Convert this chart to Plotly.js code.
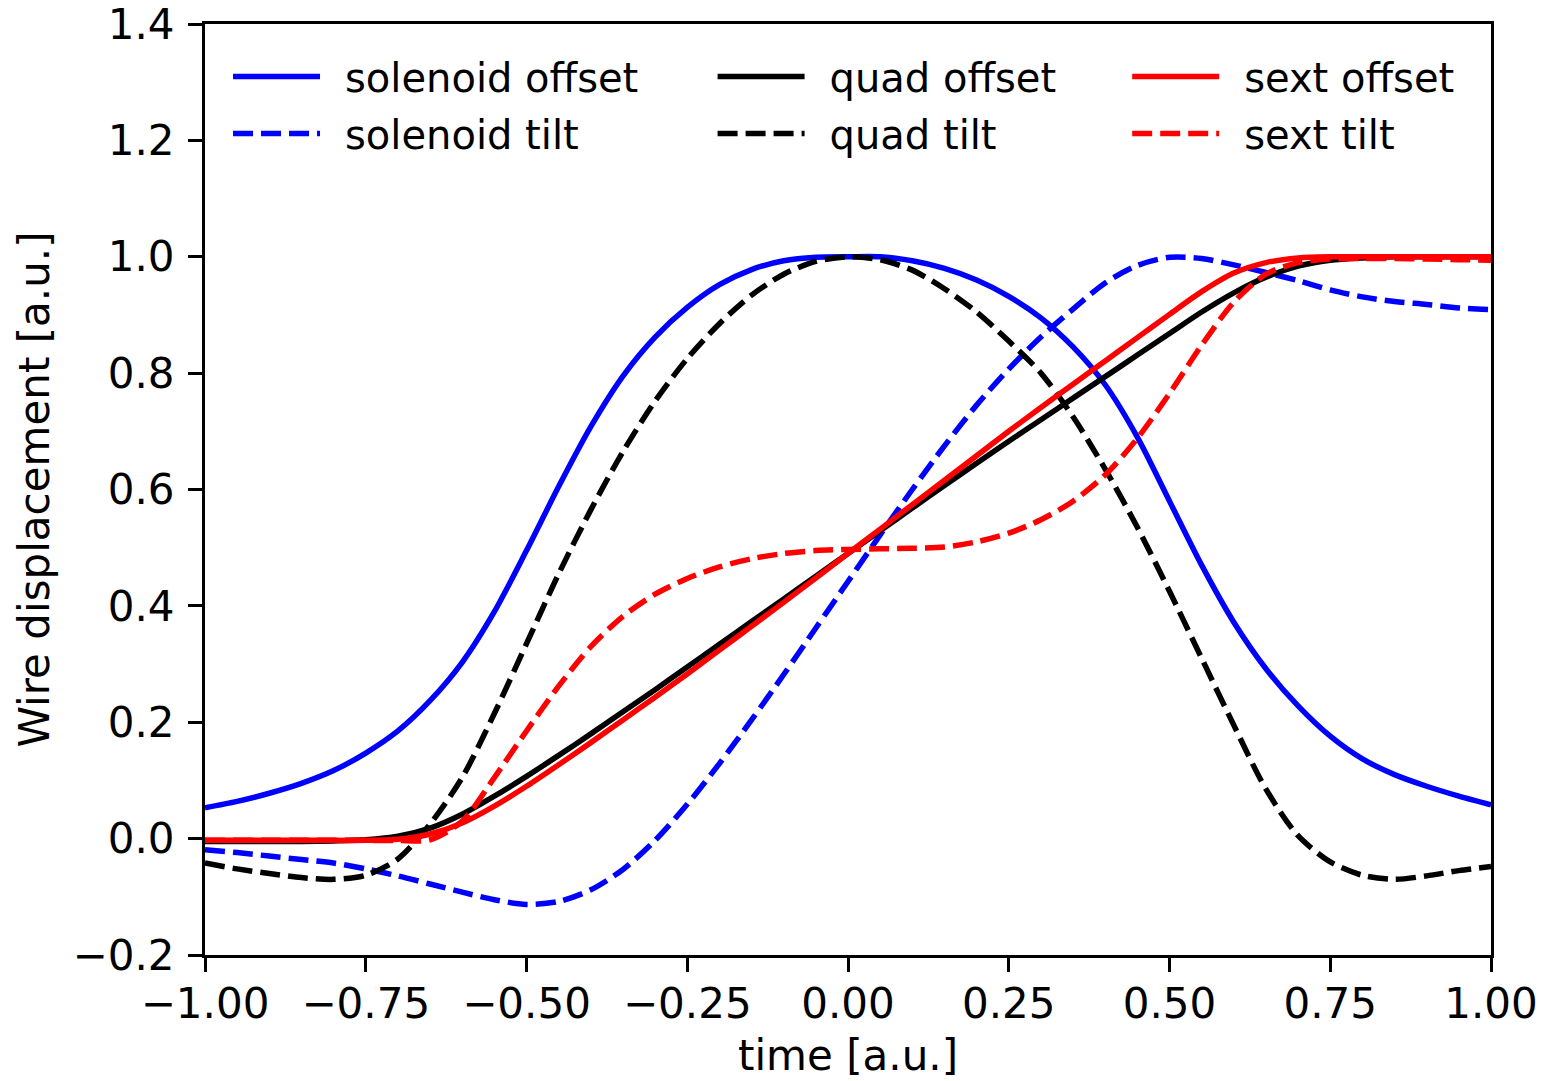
<!DOCTYPE html>
<html><head><meta charset="utf-8">
<script src="https://cdn.plot.ly/plotly-3.0.1.min.js"></script>
<style>html,body{margin:0;padding:0;background:#fff}#chart{width:1548px;height:1081px}</style>
</head><body><div id="chart"></div>
<script>
const time = [-1.00,-0.95,-0.90,-0.85,-0.80,-0.75,-0.70,-0.65,-0.60,-0.55,-0.50,-0.45,-0.40,-0.35,-0.30,-0.25,-0.20,-0.15,-0.10,-0.05,0.00,
  0.05,0.10,0.15,0.20,0.25,0.30,0.35,0.40,0.45,0.50,0.55,0.60,0.65,0.70,0.75,0.80,0.85,0.90,0.95,1.00];

const solenoidOffset = [0.053,0.064,0.078,0.095,0.117,0.147,0.185,0.237,0.303,0.390,0.495,0.605,0.708,0.795,0.862,0.913,0.952,0.978,0.993,0.999,1.000,
  1.000,0.993,0.980,0.960,0.932,0.895,0.845,0.780,0.690,0.580,0.470,0.372,0.292,0.228,0.176,0.137,0.110,0.090,0.073,0.058];
const solenoidTilt = [-0.019,-0.024,-0.030,-0.036,-0.042,-0.052,-0.064,-0.078,-0.092,-0.105,-0.113,-0.108,-0.088,-0.053,-0.003,0.059,0.129,0.204,0.282,0.362,0.442,
  0.522,0.600,0.675,0.745,0.807,0.862,0.910,0.955,0.985,0.999,0.997,0.986,0.973,0.959,0.943,0.931,0.923,0.918,0.912,0.909];
const quadOffset = [-0.005,-0.005,-0.005,-0.005,-0.004,-0.002,0.004,0.018,0.042,0.073,0.107,0.143,0.180,0.218,0.256,0.295,0.334,0.373,0.412,0.451,0.490,
  0.529,0.568,0.607,0.645,0.683,0.720,0.757,0.794,0.831,0.868,0.905,0.938,0.965,0.984,0.994,0.998,1.000,1.000,1.000,1.000];
const quadTilt = [-0.042,-0.052,-0.060,-0.067,-0.070,-0.063,-0.035,0.025,0.105,0.215,0.335,0.455,0.565,0.665,0.752,0.825,0.885,0.934,0.970,0.992,1.000,
  0.995,0.977,0.945,0.905,0.855,0.800,0.725,0.635,0.535,0.425,0.310,0.195,0.085,0.005,-0.040,-0.063,-0.070,-0.064,-0.055,-0.048];
const sextOffset = [-0.003,-0.003,-0.003,-0.003,-0.003,-0.003,-0.001,0.008,0.027,0.056,0.090,0.127,0.165,0.204,0.243,0.283,0.324,0.365,0.406,0.448,0.490,
  0.532,0.574,0.616,0.658,0.700,0.741,0.781,0.821,0.861,0.901,0.940,0.972,0.990,0.998,1.000,1.000,1.000,1.000,1.000,1.000];
const sextTilt = [-0.003,-0.003,-0.003,-0.003,-0.003,-0.003,-0.003,-0.002,0.030,0.105,0.185,0.262,0.330,0.382,0.420,0.447,0.467,0.481,0.490,0.495,0.497,
  0.498,0.499,0.501,0.510,0.525,0.548,0.580,0.625,0.688,0.765,0.848,0.922,0.970,0.990,0.996,0.997,0.997,0.996,0.995,0.994];

const seriesNames = ['solenoid offset','solenoid tilt','quad offset','quad tilt','sext offset','sext tilt'];
const seriesData = [solenoidOffset, solenoidTilt, quadOffset, quadTilt, sextOffset, sextTilt];
const seriesColors = ['#0000ff','#0000ff','#000000','#000000','#ff0000','#ff0000'];
const seriesDash = ['solid','20px,8px','solid','20px,8px','solid','20px,8px'];
const seriesLegend = ['legend','legend','legend2','legend2','legend3','legend3'];

const FONT = 'DejaVu Sans, sans-serif';

const traces = seriesNames.map((name, i) => ({
  type: 'scatter', mode: 'lines', name: '\u2002' + name,
  x: time, y: seriesData[i],
  line: {color: seriesColors[i], width: 5.5, dash: seriesDash[i], shape: 'spline', smoothing: 0.8},
  legend: seriesLegend[i], legendgroup: 'g' + i
}));

function legendAt(x) {
  return {x: x, y: 0.9786, xanchor: 'left', yanchor: 'top', bgcolor: 'rgba(0,0,0,0)',
    borderwidth: 0, itemwidth: 87, tracegroupgap: 2, traceorder: 'grouped',
    font: {family: FONT, size: 40, color: '#000'}};
}

const layout = {
  width: 1548, height: 1081,
  margin: {l: 205, r: 57, t: 24, b: 126, pad: 0},
  paper_bgcolor: '#fff', plot_bgcolor: '#fff',
  font: {family: FONT, color: '#000'},
  showlegend: true,
  legend: legendAt(0.0179),
  legend2: legendAt(0.3947),
  legend3: legendAt(0.7171),
  xaxis: {
    range: [-1, 1], tickvals: [-1,-0.75,-0.5,-0.25,0,0.25,0.5,0.75,1], tickformat: '.2f',
    showline: true, mirror: true, linecolor: '#000', linewidth: 3,
    ticks: 'outside', ticklen: 14, tickwidth: 3, tickcolor: '#000',
    ticklabelstandoff: -4, ticklabeloverflow: 'allow',
    showgrid: false, zeroline: false,
    tickfont: {family: FONT, size: 42, color: '#000'},
    title: {text: 'time [a.u.]', font: {family: FONT, size: 42, color: '#000'}, standoff: 14}
  },
  yaxis: {
    range: [-0.2, 1.4], tickvals: [-0.2,0,0.2,0.4,0.6,0.8,1.0,1.2,1.4], tickformat: '.1f',
    showline: true, mirror: true, linecolor: '#000', linewidth: 3,
    ticks: 'outside', ticklen: 14, tickwidth: 3, tickcolor: '#000',
    ticklabelstandoff: 5, ticklabeloverflow: 'allow',
    showgrid: false, zeroline: false,
    tickfont: {family: FONT, size: 42, color: '#000'},
    title: {text: 'Wire displacement [a.u.]', font: {family: FONT, size: 42, color: '#000'}, standoff: 10}
  }
};

Plotly.newPlot('chart', traces, layout, {staticPlot: true, displayModeBar: false});
</script>
</body></html>
